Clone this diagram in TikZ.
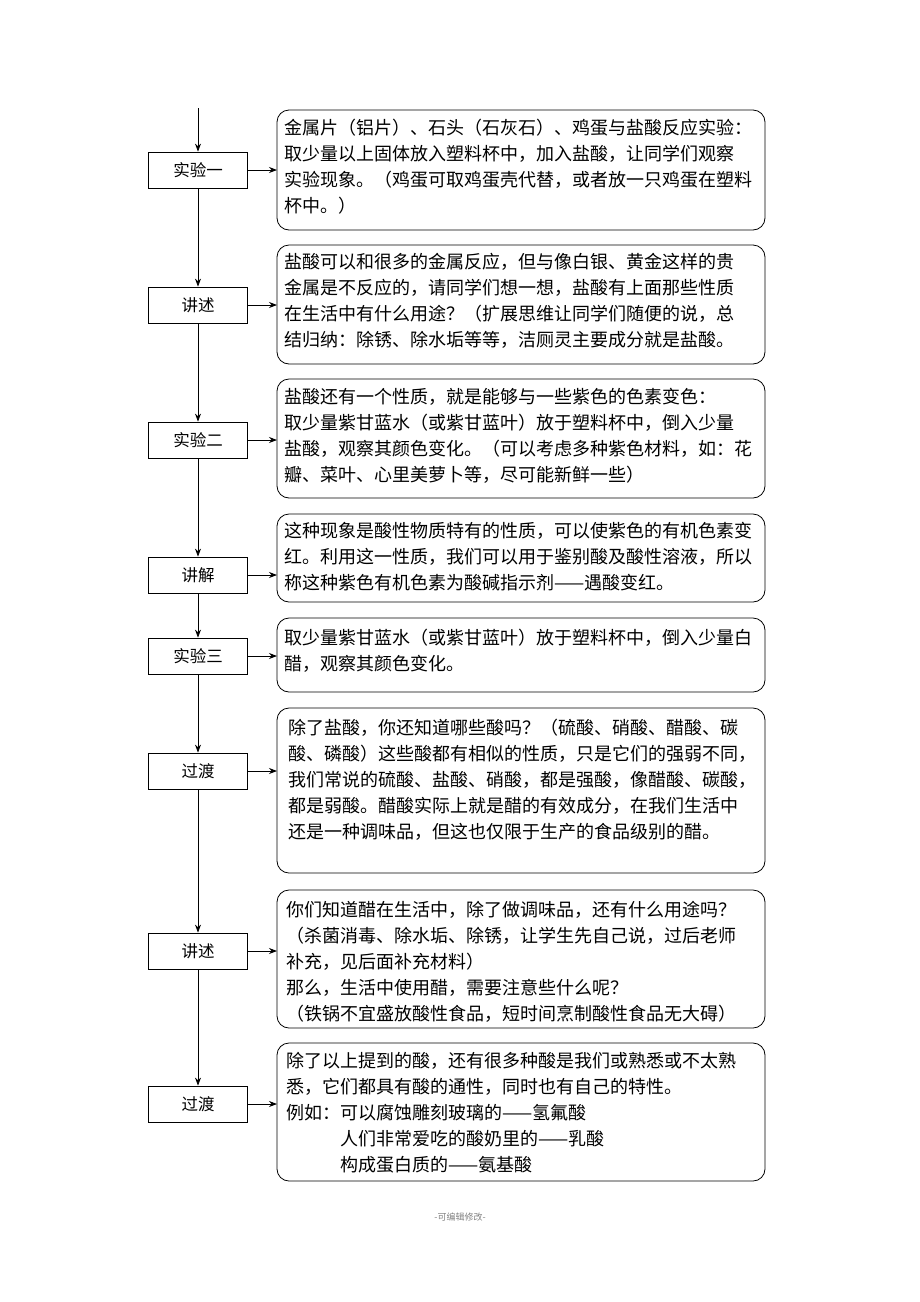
\documentclass[tikz,border=0pt]{standalone}
\usepackage{fontspec}
\setmainfont{Noto Sans CJK SC}
\usetikzlibrary{arrows.meta}
\begin{document}
\begin{tikzpicture}[x=1pt,y=-1pt,
 stepbox/.style={draw,line width=0.8pt,minimum width=99pt,minimum height=36pt,font=\fontsize{16.5}{20}\selectfont,inner sep=0pt},
 rbox/.style={draw,line width=0.8pt,rounded corners=12pt},
 txt/.style={anchor=north west,align=left,inner sep=0pt,font=\fontsize{18}{26}\selectfont},
 arr/.style={-{Stealth[length=8pt,width=6pt]},line width=0.8pt}]
\useasboundingbox (0,0) rectangle (920,1302);
\coordinate (top) at (198,108);
\node[stepbox] (s1) at (198,170) {实验一};
\node[stepbox] (s2) at (198,305) {讲述};
\node[stepbox] (s3) at (198,440) {实验二};
\node[stepbox] (s4) at (198,575) {讲解};
\node[stepbox] (s5) at (198,656) {实验三};
\node[stepbox] (s6) at (198,771) {过渡};
\node[stepbox] (s7) at (198,951) {讲述};
\node[stepbox] (s8) at (198,1104) {过渡};
\draw[arr] (top) -- (s1);
\draw[arr] (s1) -- (s2); \draw[arr] (s2) -- (s3); \draw[arr] (s3) -- (s4);
\draw[arr] (s4) -- (s5); \draw[arr] (s5) -- (s6); \draw[arr] (s6) -- (s7);
\draw[arr] (s7) -- (s8);
\foreach \i/\a/\b in {1/110/230,2/245/364,3/379/498,4/514/602,5/618/692,6/708/873,7/890/1028,8/1043/1181}{
  \draw[rbox] (277,\a) rectangle (765,\b);
  \coordinate (r\i) at (277,{(\a+\b)/2});
}
\foreach \i in {1,...,8}{ \draw[arr] (s\i.east) -- (s\i.east -| r\i); }
\node[txt] (t1) at (284,119) {金属片（铝片）、石头（石灰石）、鸡蛋与盐酸反应实验：\\取少量以上固体放入塑料杯中，加入盐酸，让同学们观察\\实验现象。（鸡蛋可取鸡蛋壳代替，或者放一只鸡蛋在塑料\\杯中。）};
\node[txt] (t2) at (284,253) {盐酸可以和很多的金属反应，但与像白银、黄金这样的贵\\金属是不反应的，请同学们想一想，盐酸有上面那些性质\\在生活中有什么用途？（扩展思维让同学们随便的说，总\\结归纳：除锈、除水垢等等，洁厕灵主要成分就是盐酸。};
\node[txt] (t3) at (284,388) {盐酸还有一个性质，就是能够与一些紫色的色素变色：\\取少量紫甘蓝水（或紫甘蓝叶）放于塑料杯中，倒入少量\\盐酸，观察其颜色变化。（可以考虑多种紫色材料，如：花\\瓣、菜叶、心里美萝卜等，尽可能新鲜一些）};
\node[txt] (t4) at (284,522) {这种现象是酸性物质特有的性质，可以使紫色的有机色素变\\红。利用这一性质，我们可以用于鉴别酸及酸性溶液，所以\\称这种紫色有机色素为酸碱指示剂——遇酸变红。};
\node[txt] (t5) at (284,629) {取少量紫甘蓝水（或紫甘蓝叶）放于塑料杯中，倒入少量白\\醋，观察其颜色变化。};
\node[txt] (t6) at (288,719) {除了盐酸，你还知道哪些酸吗？（硫酸、硝酸、醋酸、碳\\酸、磷酸）这些酸都有相似的性质，只是它们的强弱不同，\\我们常说的硫酸、盐酸、硝酸，都是强酸，像醋酸、碳酸，\\都是弱酸。醋酸实际上就是醋的有效成分，在我们生活中\\还是一种调味品，但这也仅限于生产的食品级别的醋。};
\node[txt] (t7) at (286,901) {你们知道醋在生活中，除了做调味品，还有什么用途吗？\\（杀菌消毒、除水垢、除锈，让学生先自己说，过后老师\\补充，见后面补充材料）\\那么，生活中使用醋，需要注意些什么呢？\\（铁锅不宜盛放酸性食品，短时间烹制酸性食品无大碍）};
\node[txt] (t8) at (286,1052) {除了以上提到的酸，还有很多种酸是我们或熟悉或不太熟\\悉，它们都具有酸的通性，同时也有自己的特性。\\例如：可以腐蚀雕刻玻璃的——氢氟酸\\\hspace*{54pt}人们非常爱吃的酸奶里的——乳酸\\\hspace*{54pt}构成蛋白质的——氨基酸};
\node[font=\fontsize{9}{10}\selectfont,text=gray] (ft) at (460,1217) {-可编辑修改-};
\end{tikzpicture}
\end{document}
